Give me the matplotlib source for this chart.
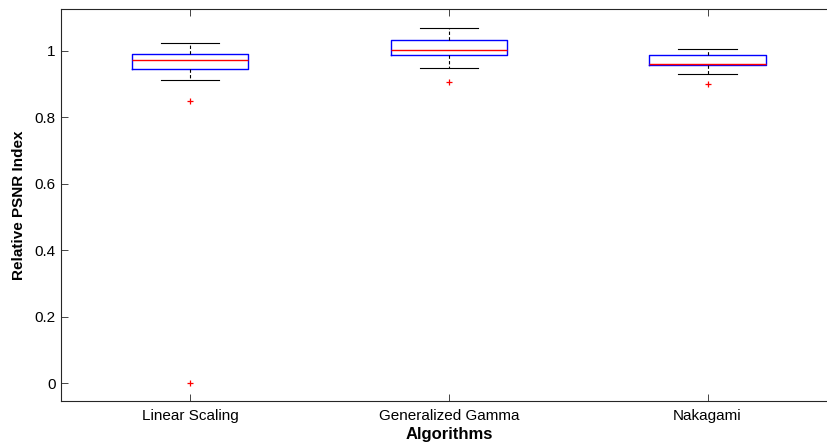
import matplotlib
matplotlib.use("Agg")
import matplotlib.pyplot as plt

plt.rcParams['font.family'] = ['Liberation Sans', 'DejaVu Sans']

# Box-plot summary per algorithm
algorithms = ["Linear Scaling", "Generalized Gamma", "Nakagami"]
whisker_low = [0.913, 0.947, 0.929]
q1 = [0.945, 0.988, 0.957]
median = [0.971, 1.002, 0.960]
q3 = [0.989, 1.031, 0.986]
whisker_high = [1.022, 1.070, 1.004]
outliers = [[0.848, 0.0], [0.905], [0.901]]

yticks = [0, 0.2, 0.4, 0.6, 0.8, 1]

stats = []
for i, name in enumerate(algorithms):
    stats.append(dict(label=name, whislo=whisker_low[i], q1=q1[i], med=median[i],
                      q3=q3[i], whishi=whisker_high[i], fliers=outliers[i]))

fig = plt.figure(figsize=(8.27, 4.47), dpi=100)
ax = fig.add_axes([0.0734, 0.1036, 0.9386, 0.8754])

axis_color = (0.15, 0.15, 0.15)
ax.bxp(stats, positions=[1, 2, 3], widths=0.45, showfliers=True,
       boxprops=dict(color="blue", linewidth=1.0),
       medianprops=dict(color="red", linewidth=1.0),
       whiskerprops=dict(color="black", linewidth=0.8, linestyle=(0, (3, 2))),
       capprops=dict(color="black", linewidth=0.8),
       flierprops=dict(marker="+", markeredgecolor="red", markersize=4,
                       markeredgewidth=0.9, linestyle="none"))

ax.set_xlim(0.5, 3.5)
ax.set_ylim(-0.0523, 1.1245)
ax.set_yticks(yticks)
ax.set_yticklabels([f"{v:g}" for v in yticks])
ax.set_xticks([1, 2, 3])
ax.set_xticklabels(algorithms)

ax.tick_params(direction="in", length=5, width=0.6, labelsize=11,
               colors=axis_color, top=True, right=True, labelcolor="black")
ax.tick_params(axis="x", pad=6)
for s in ax.spines.values():
    s.set_color(axis_color)
    s.set_linewidth(0.8)

ax.set_xlabel("Algorithms", fontsize=12, fontweight="bold", labelpad=3)
ax.set_ylabel("Relative PSNR Index", fontsize=11, fontweight="bold", labelpad=6)

fig.savefig("out.png", dpi=100)
